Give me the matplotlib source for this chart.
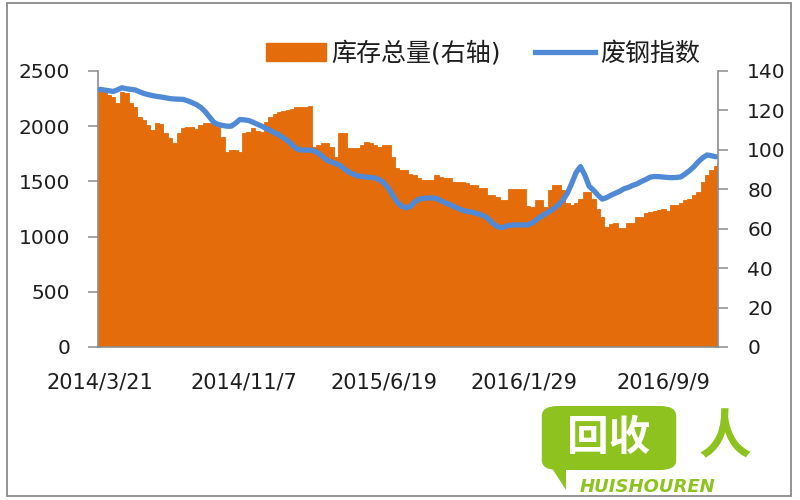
import matplotlib
matplotlib.use("Agg")
import matplotlib.pyplot as plt
from matplotlib.patches import Patch, Rectangle, FancyBboxPatch, Polygon
from matplotlib.lines import Line2D
import numpy as np

plt.rcParams['font.family'] = ['DejaVu Sans', 'Noto Sans CJK SC']

# ---- data (weekly, starting 2014/3/21) ----
inventory = [2328, 2320, 2283, 2267, 2207, 2312, 2300, 2207, 2176, 2085,
             2055, 2011, 1966, 2026, 2020, 1935, 1890, 1845, 1935, 1981,
             1996, 1996, 1975, 2011, 2026, 2026, 2020, 1996, 1905, 1769,
             1784, 1784, 1769, 1935, 1950, 1981, 1960, 1950, 2040, 2080,
             2110, 2131, 2140, 2146, 2160, 2170, 2176, 2176, 2180, 1814,
             1830, 1845, 1845, 1814, 1720, 1935, 1935, 1800, 1800, 1800,
             1830, 1860, 1850, 1830, 1814, 1830, 1830, 1724, 1617, 1603,
             1603, 1570, 1558, 1527, 1513, 1513, 1513, 1558, 1540, 1527,
             1527, 1497, 1497, 1497, 1490, 1467, 1467, 1437, 1437, 1377,
             1377, 1361, 1331, 1331, 1427, 1427, 1427, 1427, 1280, 1270,
             1331, 1331, 1270, 1422, 1467, 1467, 1422, 1301, 1286, 1300,
             1345, 1407, 1400, 1345, 1250, 1180, 1090, 1110, 1120, 1074,
             1074, 1120, 1120, 1180, 1180, 1210, 1225, 1230, 1241, 1250,
             1235, 1286, 1286, 1300, 1331, 1340, 1380, 1400, 1497, 1560,
             1600, 1640]

scrap_index = [130.7, 130.3, 130.0, 129.6, 130.5, 131.5, 131.0, 130.7, 130.4, 129.5,
               128.6, 128.0, 127.5, 127.1, 126.8, 126.4, 126.0, 125.8, 125.7, 125.6,
               124.9, 124.0, 123.0, 121.6, 119.5, 116.8, 114.0, 112.9, 112.4, 112.0,
               112.0, 113.5, 115.4, 115.2, 114.9, 114.0, 113.0, 112.0, 110.9, 109.8,
               108.6, 107.5, 106.0, 104.5, 102.5, 100.5, 99.9, 99.9, 99.9, 99.5,
               98.3, 96.5, 94.7, 93.8, 93.0, 92.0, 90.2, 88.7, 87.6, 86.8,
               86.4, 86.2, 86.0, 85.7, 84.8, 83.2, 80.5, 77.0, 73.5, 71.5,
               70.6, 71.2, 73.5, 75.0, 75.4, 75.6, 75.6, 75.4, 74.2, 73.2,
               72.3, 71.3, 70.3, 69.4, 68.8, 68.5, 67.9, 67.2, 66.4, 64.8,
               62.6, 61.0, 60.5, 61.3, 61.8, 61.9, 61.9, 61.9, 62.0, 63.0,
               64.6, 66.3, 67.6, 68.9, 70.4, 72.2, 74.6, 78.0, 83.0, 88.5,
               91.5, 87.2, 81.5, 79.5, 77.0, 75.0, 75.8, 77.0, 78.0, 79.0,
               80.3, 81.0, 82.0, 82.8, 84.0, 85.0, 86.2, 86.5, 86.4, 86.2,
               86.0, 85.9, 86.0, 86.3, 87.8, 89.5, 91.5, 94.0, 96.0, 97.4,
               97.0, 96.5]

tick_labels = ['2014/3/21', '2014/11/7', '2015/6/19', '2016/1/29', '2016/9/9']
tick_index = [0, 33, 65, 97, 129]

series_names = ['库存总量(右轴)', '废钢指数']

ORANGE = '#E46C0A'
BLUE = '#5089D6'
SPINE = '#8C8C8C'
TXT = '#1E1E1E'

fig = plt.figure(figsize=(8, 5), dpi=100)
fig.patch.set_facecolor('white')

ax = fig.add_axes([0.1225, 0.306, 0.775, 0.552])
ax2 = ax.twinx()

x = np.arange(len(inventory))
ax.bar(x, inventory, width=1.0, color=ORANGE, edgecolor=ORANGE, linewidth=0.6)
ax2.plot(x, scrap_index, color=BLUE, linewidth=3.8, solid_capstyle='round')

ax.set_xlim(-0.5, len(inventory) - 0.5)
ax.set_ylim(0, 2500)
ax2.set_ylim(0, 140)
ax.set_yticks(np.arange(0, 2501, 500))
ax2.set_yticks(np.arange(0, 141, 20))
ax.set_xticks(tick_index)
ax.set_xticklabels(tick_labels)

for a in (ax, ax2):
    for s in a.spines.values():
        s.set_color(SPINE)
        s.set_linewidth(1.2)
    a.spines['top'].set_visible(False)
ax.spines['right'].set_visible(False)
ax2.spines['left'].set_visible(False)
ax2.spines['bottom'].set_visible(False)

ax.tick_params(axis='y', length=7, width=1.1, color=SPINE, pad=13,
               labelsize=14.5, labelcolor=TXT)
ax2.tick_params(axis='y', length=7, width=1.1, color=SPINE, pad=14,
                labelsize=14.5, labelcolor=TXT)
ax.tick_params(axis='x', length=0, pad=18, labelsize=15, labelcolor=TXT)

# legend
handles = [Patch(facecolor=ORANGE, edgecolor=ORANGE),
           Line2D([0], [0], color=BLUE, linewidth=3.8)]
fig.legend(handles, series_names, loc='center', bbox_to_anchor=(0.604, 0.893),
           ncol=2, frameon=False, fontsize=18, handlelength=2.4,
           handletextpad=0.2, columnspacing=1.4, labelcolor=TXT)

# outer border
fig.patches.append(Rectangle((0.009, 0.008), 0.98, 0.986, transform=fig.transFigure,
                             fill=False, edgecolor='#8A8A8A', linewidth=1.3))

# watermark
GREEN = '#8DC21F'
fig.patches.append(FancyBboxPatch((545 / 800, 1 - 468 / 500), 128 / 800, 60 / 500,
                                  boxstyle='round,pad=0.004,rounding_size=0.02',
                                  transform=fig.transFigure, facecolor=GREEN,
                                  edgecolor='none'))
fig.patches.append(Polygon([(548 / 800, 1 - 462 / 500), (566 / 800, 1 - 462 / 500),
                            (566 / 800, 1 - 490 / 500)], closed=True,
                           transform=fig.transFigure, facecolor=GREEN, edgecolor='none'))
fig.text(609 / 800, 1 - 438 / 500, '回收', color='white', fontsize=30,
         fontweight='bold', ha='center', va='center', family='Noto Sans CJK SC')
fig.text(725 / 800, 1 - 438 / 500, '人', color=GREEN, fontsize=38,
         fontweight='bold', style='italic', ha='center', va='center',
         family='Noto Sans CJK SC')
fig.text(647 / 800, 1 - 487 / 500, 'HUISHOUREN', color=GREEN, fontsize=13,
         fontweight='bold', style='italic', ha='center', va='center')

fig.savefig('out.png', dpi=100)
